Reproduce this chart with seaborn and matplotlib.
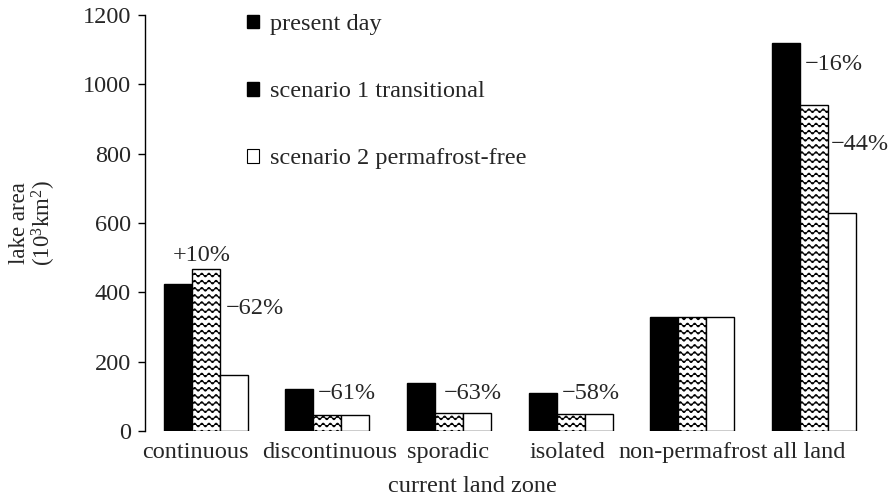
import warnings
import numpy as np
import pandas as pd
import matplotlib
matplotlib.use("Agg")
import matplotlib.pyplot as plt
import matplotlib.hatch as mhatch
import matplotlib.transforms as mtransforms
from matplotlib.path import Path
from matplotlib.patches import Patch
import seaborn as sns

warnings.filterwarnings("ignore")

ZONES = ["continuous", "discontinuous", "sporadic", "isolated", "non-permafrost", "all land"]
SCENARIOS = ["present day", "scenario 1 transitional", "scenario 2 permafrost-free"]
PRESENT_DAY = [425, 121, 137, 111, 329, 1120]
SCENARIO_1 = [468, 47, 52, 48, 329, 940]
SCENARIO_2 = [162, 47, 52, 48, 329, 630]
Y_TICKS = [0, 200, 400, 600, 800, 1000, 1200]

# change labels: (zone index, anchor bar within group, text, dx px, dy px, ha)
CHANGE_LABELS = [
    (0, 1, "+10%", -4, 13, "center"),
    (0, 1, "\u221262%", 6, -40, "left"),
    (1, 0, "\u221261%", 4, -4, "left"),
    (2, 0, "\u221263%", 9, -10, "left"),
    (3, 0, "\u221258%", 5, -1, "left"),
    (5, 0, "\u221216%", 5, -22, "left"),
    (5, 1, "\u221244%", 3, -39, "left"),
]
# small horizontal nudges (px) so the zone names don't run into each other
TICK_NUDGE = [-10, 2, -1, -3, 1, -5]


class WavyHatch(mhatch.HatchPatternBase):
    """Rows of small sine waves, used with the '~' hatch character."""

    def __init__(self, hatch, density):
        self.num_rows = hatch.count("~") * 7
        self.periods = 14
        self.pts = self.periods * 10 + 1
        self.num_vertices = self.num_rows * self.pts

    def set_vertices_and_codes(self, vertices, codes):
        xs = np.linspace(0.0, 1.0, self.pts)
        step = 1.0 / self.num_rows
        amp = step * 0.25
        for r in range(self.num_rows):
            yc = (r + 0.5) * step
            sl = slice(r * self.pts, (r + 1) * self.pts)
            vertices[sl, 0] = xs
            vertices[sl, 1] = yc + amp * np.sin(2 * np.pi * self.periods * xs)
            codes[sl] = Path.LINETO
            codes[r * self.pts] = Path.MOVETO


mhatch._hatch_types.append(WavyHatch)

sns.set_theme(style="ticks")
plt.rcParams["font.family"] = ["Liberation Serif", "DejaVu Serif"]
plt.rcParams["mathtext.fontset"] = "custom"
plt.rcParams["mathtext.rm"] = "Liberation Serif"
plt.rcParams["mathtext.it"] = "Liberation Serif:italic"
plt.rcParams["hatch.linewidth"] = 0.8
FS = 17.5

df = pd.DataFrame({
    "zone": ZONES * 3,
    "scenario": np.repeat(SCENARIOS, len(ZONES)),
    "area": PRESENT_DAY + SCENARIO_1 + SCENARIO_2,
})

fig = plt.figure(figsize=(8.91, 4.99), dpi=100)
ax = fig.add_axes([0.1627, 0.1363, 0.8193, 0.8337])

sns.barplot(
    data=df, x="zone", y="area", hue="scenario",
    order=ZONES, hue_order=SCENARIOS,
    palette=["black", "white", "white"],
    edgecolor="black", linewidth=1.0, width=0.69,
    errorbar=None, legend=False, ax=ax,
)

for patch in ax.containers[1]:
    patch.set_hatch("~~")

ax.set_xlim(-0.5, 5.5)
ax.set_ylim(0, 1200)
ax.set_yticks(Y_TICKS)
ax.tick_params(axis="y", labelsize=FS, length=5, width=1.0, pad=5, color="black")
ax.tick_params(axis="x", labelsize=FS, length=0, pad=8)
sns.despine(ax=ax, bottom=True)
ax.spines["left"].set_color("black")
ax.spines["left"].set_linewidth(1.0)

for lab, nudge in zip(ax.get_xticklabels(), TICK_NUDGE):
    shift = mtransforms.ScaledTranslation(nudge / 100, 0, fig.dpi_scale_trans)
    lab.set_transform(lab.get_transform() + shift)

ax.set_xlabel("current land zone", fontsize=FS, va="center")
ax.xaxis.set_label_coords(0.448, -0.134)
ax.set_ylabel("lake area\n(10$^3$km$^2$)", fontsize=16.5, linespacing=1.0, va="center")
ax.yaxis.set_label_coords(-0.153, 0.5)

for zi, bi, text, dx, dy, ha in CHANGE_LABELS:
    bar = ax.containers[bi][zi]
    if ha == "center":
        x = bar.get_x() + bar.get_width() / 2
    else:
        x = bar.get_x() + bar.get_width()
    ax.annotate(text, xy=(x, bar.get_height()), xytext=(dx, dy),
                textcoords="offset pixels", ha=ha, va="center", fontsize=FS)

handles = [
    Patch(facecolor="black", edgecolor="black"),
    Patch(facecolor="black", edgecolor="black"),
    Patch(facecolor="white", edgecolor="black", linewidth=0.8),
]
ax.legend(handles, SCENARIOS, loc="upper left", bbox_to_anchor=(0.14, 1.002),
          frameon=False, fontsize=FS, handlelength=0.5, handleheight=0.5,
          handletextpad=0.45, labelspacing=1.9, borderpad=0, borderaxespad=0)

fig.savefig("out.png", dpi=100)
